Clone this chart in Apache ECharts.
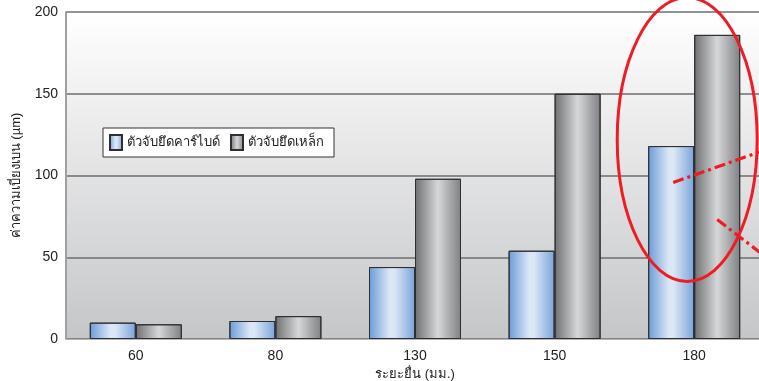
<!DOCTYPE html>
<html>
<head>
<meta charset="utf-8">
<script src="https://cdn.jsdelivr.net/npm/echarts@6/dist/echarts.min.js"></script>
<style>
  html, body { margin: 0; padding: 0; background: #ffffff; }
  #chart { width: 759px; height: 381px; }
</style>
</head>
<body>
<div id="chart"></div>
<script>
// Overhang distance categories and deviation values per holder type
const categories = ['60', '80', '130', '150', '180'];
const carbideHolder = [10, 11, 44, 54, 118];
const steelHolder = [9, 14, 98, 150, 186];
const seriesNames = ['ตัวจับยึดคาร์ไบด์', 'ตัวจับยึดเหล็ก'];
const yTicks = [0, 50, 100, 150, 200];

const FONT = '"Liberation Sans", Arial, "DejaVu Sans", sans-serif';

function hGrad(stops) {
  return new echarts.graphic.LinearGradient(0, 0, 1, 0,
    stops.map(([o, c]) => ({ offset: o, color: c })));
}

const blueFill = hGrad([[0, '#6b9bd6'], [0.45, '#dce7f6'], [0.55, '#dce7f6'], [1, '#7aa3da']]);
const grayFill = hGrad([[0, '#6f7072'], [0.5, '#d6d7d9'], [1, '#7f8083']]);

const chart = echarts.init(document.getElementById('chart'), null, { renderer: 'canvas' });

chart.setOption({
  animation: false,
  textStyle: { fontFamily: FONT },
  grid: {
    left: 66, right: -5, top: 12, bottom: 42,
    outerBoundsMode: 'none',
    containLabel: false,
    show: true,
    borderWidth: 0,
    backgroundColor: new echarts.graphic.LinearGradient(0, 0, 0, 1, [
      { offset: 0, color: '#ffffff' },
      { offset: 1, color: '#c5c6c8' }
    ])
  },
  legend: {
    left: 103, top: 128,
    orient: 'horizontal',
    backgroundColor: '#ffffff',
    borderColor: '#333333',
    borderWidth: 1,
    padding: [6, 10, 6, 6],
    icon: 'rect',
    itemWidth: 12, itemHeight: 15, itemGap: 10,
    textStyle: { fontSize: 13, color: '#222', fontFamily: FONT },
    data: seriesNames
  },
  xAxis: {
    type: 'category',
    data: categories,
    name: 'ระยะยื่น (มม.)',
    nameLocation: 'middle',
    nameGap: 29,
    nameTextStyle: { fontSize: 13, color: '#222' },
    axisLine: { show: true, lineStyle: { color: '#b4b4b4', width: 1 } },
    axisTick: { show: false },
    axisLabel: { fontSize: 14, color: '#222', margin: 10 }
  },
  yAxis: {
    type: 'value',
    min: yTicks[0], max: yTicks[yTicks.length - 1], interval: 50,
    name: 'ค่าความเบี่ยงเบน (µm)',
    nameLocation: 'middle',
    nameRotate: 90,
    nameGap: 43,
    nameTextStyle: { fontSize: 13, color: '#222' },
    axisLine: { show: true, lineStyle: { color: '#a0a0a0', width: 2 } },
    axisTick: { show: false },
    axisLabel: { fontSize: 14, color: '#222', margin: 8 },
    splitLine: { show: true, lineStyle: { color: '#6e6e6e', width: 1.5 } }
  },
  series: [
    {
      name: seriesNames[0],
      type: 'bar',
      data: carbideHolder,
      barWidth: 46,
      barGap: '0%',
      itemStyle: { color: blueFill, borderColor: '#2f2f33', borderWidth: 1 }
    },
    {
      name: seriesNames[1],
      type: 'bar',
      data: steelHolder,
      barWidth: 46,
      barGap: '0%',
      itemStyle: { color: grayFill, borderColor: '#2f2f33', borderWidth: 1 }
    }
  ]
});

// Red annotation highlighting the longest overhang group
function drawHighlight() {
  // anchor at the shared edge of the two 180 bars, at value 122
  const c = chart.convertToPixel({ xAxisIndex: 0, yAxisIndex: 0 }, [categories.length - 1, 122]);
  const ax = c[0], ay = c[1];
  const red = '#ee1c25';
  chart.setOption({
    graphic: [
      {
        type: 'ellipse',
        shape: { cx: ax - 7, cy: ay, rx: 70, ry: 142 },
        style: { fill: 'none', stroke: red, lineWidth: 3 },
        z: 100
      },
      {
        type: 'line',
        shape: { x1: ax - 21, y1: ay + 43, x2: ax + 75, y2: ay + 9 },
        style: { stroke: red, lineWidth: 3.2, lineDash: [11, 4, 3, 4] },
        z: 100
      },
      {
        type: 'line',
        shape: { x1: ax + 23, y1: ay + 80, x2: ax + 75, y2: ay + 120 },
        style: { stroke: red, lineWidth: 3.2, lineDash: [11, 4, 3, 4] },
        z: 100
      }
    ]
  });
}
drawHighlight();
</script>
</body>
</html>
